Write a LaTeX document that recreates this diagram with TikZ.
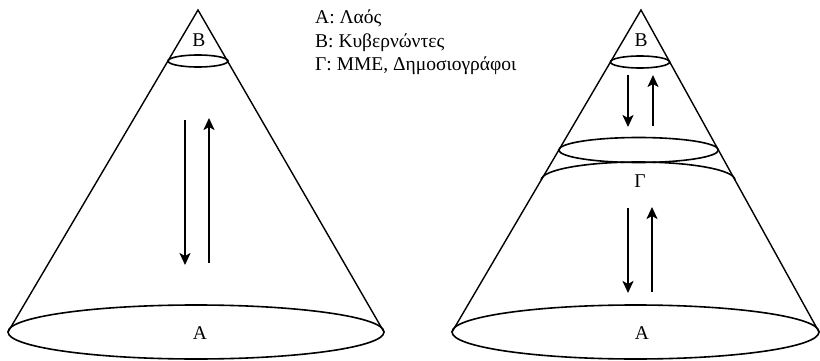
\documentclass[tikz,border=0pt]{standalone}
\usepackage{fontspec}
\setmainfont{Liberation Serif}
\usetikzlibrary{arrows.meta}

\begin{document}
\begin{tikzpicture}[
  x=1pt, y=-1pt,
  font=\fontsize{19.5}{23.5}\selectfont,
  cone/.style={draw=black, line width=1.4pt},
  ring/.style={draw=black, line width=1.6pt},
  label/.style={inner sep=0pt},
  flow/.style={-{Stealth[length=12pt, width=11pt, inset=3pt]}, line width=2.2pt, draw=black}
]
\useasboundingbox (0,0) rectangle (820,361);

% left cone
\coordinate (lapex) at (198,10);
\coordinate (lbase) at (196,332);
\draw[cone] (8,332) -- (lapex) -- (384,332);
\draw[ring] (lbase) ellipse [x radius=188, y radius=27];
\draw[ring] (198,61) ellipse [x radius=30, y radius=6];
\node[label] (lB) at (199,40) {Β};
\node[label] (lA) at (200,333) {Α};

\coordinate (ldown1) at (185,120);
\coordinate (ldown2) at (185,265);
\coordinate (lup1) at (209,263);
\coordinate (lup2) at (209,118);
\draw[flow] (ldown1) -- (ldown2);
\draw[flow] (lup1) -- (lup2);

% legend
\node[label, anchor=north west, align=left] (legend) at (315,10)
  {Α: Λαός\\Β: Κυβερνώντες\\Γ: ΜΜΕ, Δημοσιογράφοι};

% right cone
\coordinate (rapex) at (641,10);
\coordinate (rbase) at (635.5,332);
\draw[cone] (452,332) -- (rapex) -- (819,332);
\draw[ring] (rbase) ellipse [x radius=183.5, y radius=27];
\draw[ring] (640,62) ellipse [x radius=29.6, y radius=6];
\draw[ring] (638.6,150) ellipse [x radius=79.8, y radius=12.5];
\draw[ring] (541.2,180) arc [start angle=180, end angle=360, x radius=96.9, y radius=18];
\node[label] (rB) at (641,40) {Β};
\node[label] (rG) at (640,181) {Γ};
\node[label] (rA) at (642,333) {Α};

\coordinate (rdown1) at (628,75);
\coordinate (rdown2) at (628,127);
\coordinate (rup1) at (653,126);
\coordinate (rup2) at (653,75);
\draw[flow] (rdown1) -- (rdown2);
\draw[flow] (rup1) -- (rup2);

\coordinate (rdown3) at (628,208);
\coordinate (rdown4) at (628,293);
\coordinate (rup3) at (652,292);
\coordinate (rup4) at (652,207);
\draw[flow] (rdown3) -- (rdown4);
\draw[flow] (rup3) -- (rup4);
\end{tikzpicture}
\end{document}
